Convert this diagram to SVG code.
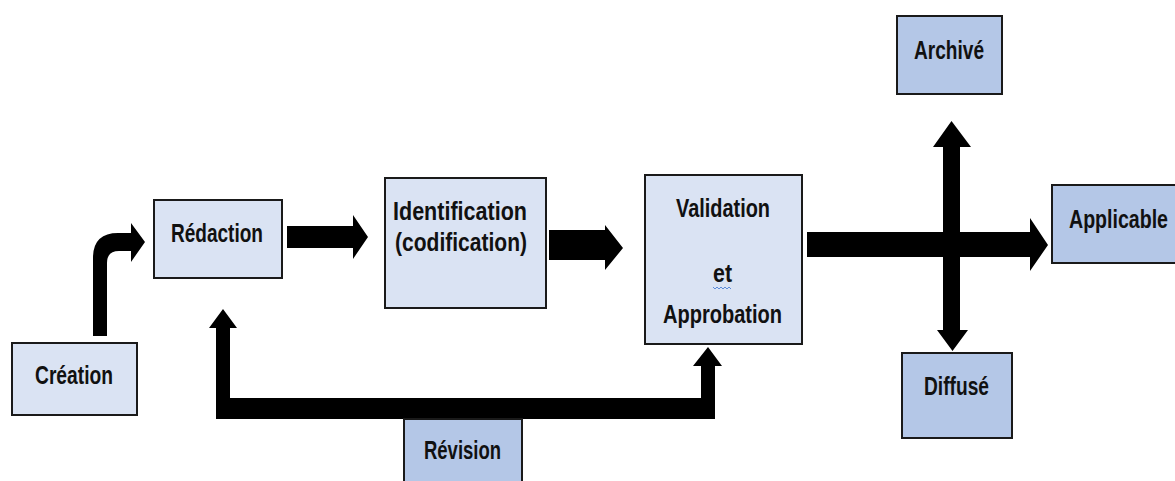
<svg xmlns="http://www.w3.org/2000/svg" width="1175" height="481" viewBox="0 0 1175 481">
<style>
.box{stroke:#1a1a1a;stroke-width:2}
.light{fill:#dae3f3}
.dark{fill:#b4c7e7}
.t{font-family:"Liberation Sans",Arial,sans-serif;font-weight:bold;font-size:26px;fill:#111}
.arr{fill:#000}
</style>
<rect width="1175" height="481" fill="#fff"/>
<g id="connectors">
<path class="arr" d="M93,336 L93,258 Q93,233 118,233 L131,233 L131,223 L145,242 L131,262 L131,251 L119,251 Q107,251 107,263 L107,336 Z"/>
<path class="arr" d="M287,226 L353,226 L353,215 L368,237 L353,259 L353,248 L287,248 Z"/>
<path class="arr" d="M549,230 L605,230 L605,225 L623,248 L605,270 L605,260 L549,260 Z"/>
<path class="arr" d="M807,232 L1030,232 L1030,218 L1048,245 L1030,271 L1030,257 L807,257 Z"/>
<path class="arr" d="M943,147 L933,147 L951.5,121 L971,147 L960,147 L960,330 L968,330 L952.5,351 L937,330 L943,330 Z"/>
<path class="arr" d="M216,419 L216,328 L209,328 L223,309 L237,328 L230,328 L230,398 L701,398 L701,366 L693,366 L708,347 L722,366 L715,366 L715,419 Z"/>
</g>
<g id="creation">
<rect class="box light" x="12" y="343" width="125" height="72"/>
<text class="t" x="35" y="384" textLength="78" lengthAdjust="spacingAndGlyphs">Création</text>
</g>
<g id="redaction">
<rect class="box light" x="154" y="200" width="128" height="78"/>
<text class="t" x="171" y="242" textLength="92" lengthAdjust="spacingAndGlyphs">Rédaction</text>
</g>
<g id="identification">
<rect class="box light" x="385" y="178" width="161" height="130"/>
<text class="t" x="393" y="220" textLength="134" lengthAdjust="spacingAndGlyphs">Identification</text>
<text class="t" x="395" y="251" textLength="132" lengthAdjust="spacingAndGlyphs">(codification)</text>
</g>
<g id="validation">
<rect class="box light" x="645" y="175" width="157" height="169"/>
<text class="t" x="676" y="217" textLength="94" lengthAdjust="spacingAndGlyphs">Validation</text>
<text class="t" x="713" y="282" textLength="19" lengthAdjust="spacingAndGlyphs">et</text>
<path d="M713,287 l2,2 l2,-2 l2,2 l2,-2 l2,2 l2,-2 l2,2 l2,-2 l2,2" fill="none" stroke="#5b8bd9" stroke-width="1"/>
<text class="t" x="663" y="323" textLength="119" lengthAdjust="spacingAndGlyphs">Approbation</text>
</g>
<g id="archive">
<rect class="box dark" x="897" y="16" width="105" height="78"/>
<text class="t" x="914" y="59" textLength="70" lengthAdjust="spacingAndGlyphs">Archivé</text>
</g>
<g id="applicable">
<rect class="box dark" x="1052" y="185" width="130" height="78"/>
<text class="t" x="1069" y="228" textLength="99" lengthAdjust="spacingAndGlyphs">Applicable</text>
</g>
<g id="diffuse">
<rect class="box dark" x="902" y="353" width="110" height="85"/>
<text class="t" x="924" y="395" textLength="65" lengthAdjust="spacingAndGlyphs">Diffusé</text>
</g>
<g id="revision">
<rect class="box dark" x="404" y="419" width="118" height="70"/>
<text class="t" x="424" y="459" textLength="77" lengthAdjust="spacingAndGlyphs">Révision</text>
</g>
</svg>
